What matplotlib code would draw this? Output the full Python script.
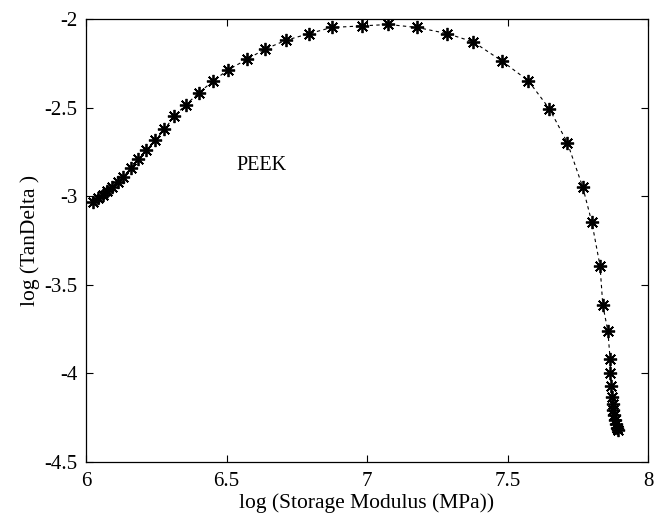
import matplotlib
matplotlib.use("Agg")
import matplotlib.pyplot as plt
import numpy as np

# log(storage modulus) vs log(tan delta) for PEEK
log_modulus = [6.026, 6.044, 6.059, 6.074, 6.091, 6.115, 6.133, 6.160, 6.186, 6.214,
               6.246, 6.279, 6.314, 6.356, 6.402, 6.451, 6.504, 6.572, 6.637, 6.712,
               6.795, 6.874, 6.981, 7.076, 7.179, 7.284, 7.378, 7.479, 7.574, 7.649,
               7.713, 7.768, 7.800, 7.829, 7.839, 7.857, 7.865, 7.866, 7.868, 7.871,
               7.874, 7.877, 7.880, 7.883, 7.886, 7.890, 7.894]
log_tandelta = [-3.030, -3.012, -2.990, -2.968, -2.946, -2.918, -2.890, -2.840, -2.792, -2.739,
                -2.683, -2.622, -2.548, -2.482, -2.416, -2.350, -2.288, -2.227, -2.169, -2.119,
                -2.081, -2.047, -2.038, -2.030, -2.047, -2.081, -2.128, -2.235, -2.348, -2.506,
                -2.698, -2.950, -3.147, -3.392, -3.614, -3.761, -3.920, -3.996, -4.069, -4.135,
                -4.173, -4.207, -4.235, -4.263, -4.286, -4.310, -4.320]

xticks = [6, 6.5, 7, 7.5, 8]
yticks = [-4.5, -4, -3.5, -3, -2.5, -2]

plt.rcParams['font.family'] = ['Liberation Serif', 'DejaVu Serif']

fig = plt.figure(figsize=(6.64, 5.18), dpi=100)
ax = fig.add_axes([0.1295, 0.108, 0.8465, 0.855])

# dashed line with asterisk markers (4 strokes through the centre)
ax.plot(log_modulus, log_tandelta, color='black', linestyle=(0, (3, 3)), linewidth=0.8,
        marker=(8, 2, 0), markersize=9.5, markeredgewidth=1.3, markeredgecolor='black')

ax.text(6.535, -2.824, 'PEEK', fontsize=14.5, ha='left', va='center')

ax.set_xlim(6, 8)
ax.set_ylim(-4.5, -2)
ax.set_xticks(xticks)
ax.set_xticklabels(['6', '6.5', '7', '7.5', '8'])
ax.set_yticks(yticks)
ax.set_yticklabels(['-4.5', '-4', '-3.5', '-3', '-2.5', '-2'])
ax.tick_params(direction='in', top=True, right=True, length=5, labelsize=15, width=0.8)
ax.tick_params(axis='x', pad=7)
ax.tick_params(axis='y', pad=6)
for s in ax.spines.values():
    s.set_linewidth(0.9)

ax.set_xlabel('log (Storage Modulus (MPa))', fontsize=15.5, labelpad=2)
ax.set_ylabel('log (TanDelta )', fontsize=15.5, labelpad=3)

fig.savefig('out.png', dpi=100)
